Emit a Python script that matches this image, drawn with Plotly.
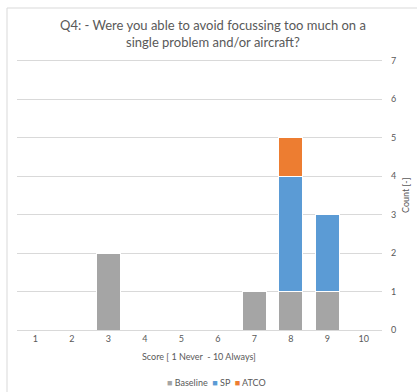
import plotly.graph_objects as go

# Survey responses per score
scores = ["1", "2", "3", "4", "5", "6", "7", "8", "9", "10"]
baseline = [0, 0, 2, 0, 0, 0, 1, 1, 1, 0]
sp = [0, 0, 0, 0, 0, 0, 0, 3, 2, 0]
atco = [0, 0, 0, 0, 0, 0, 0, 1, 0, 0]
y_ticks = [0, 1, 2, 3, 4, 5, 6, 7]
series = [("Baseline", baseline, "#a5a5a5"),
          ("SP", sp, "#5b9bd5"),
          ("ATCO", atco, "#ed7d31")]

W, H = 417, 392
L, R, T, B = 17, 35, 59, 62
pw, ph = W - L - R, H - T - B

def px(x):
    return (x - L) / pw

def py(y):
    return (H - B - y) / ph

font = "Lato, Carlito, 'Open Sans', sans-serif"
grey = "#595959"

fig = go.Figure()
for name, vals, col in series:
    fig.add_trace(go.Bar(
        x=scores, y=vals, name=name,
        marker=dict(color=col, line=dict(color="white", width=1)),
    ))

# compact legend line under the axis title
legend_text = "&nbsp;&nbsp;".join(
    f"<span style='color:{col}'>■</span> {name}" for name, _, col in series)

fig.update_layout(
    width=W, height=H,
    margin=dict(l=L, r=R, t=T, b=B, autoexpand=False),
    barmode="stack", bargap=0.34,
    paper_bgcolor="white", plot_bgcolor="white",
    font=dict(family=font, color=grey, size=9),
    showlegend=False,
    xaxis=dict(type="category", range=[-0.5, 9.5], showgrid=False,
               showline=True, linecolor="#d9d9d9", linewidth=1,
               ticks="", tickfont=dict(size=9, color=grey)),
    yaxis=dict(side="right", range=[0, 7.04], tickvals=y_ticks,
               showgrid=True, gridcolor="#d9d9d9", gridwidth=1,
               zeroline=False, ticks="", ticklabelstandoff=8,
               tickfont=dict(size=9, color=grey)),
    annotations=[
        dict(text="Q4: - Were you able to avoid focussing too much on a<br>single problem and/or aircraft?",
             xref="paper", yref="paper", x=px(213), y=py(34),
             xanchor="center", yanchor="middle", showarrow=False,
             font=dict(size=13, color=grey, family=font)),
        dict(text="Score [ 1 Never  - 10 Always]",
             xref="paper", yref="paper", x=px(199), y=py(356),
             xanchor="center", yanchor="middle", showarrow=False,
             font=dict(size=9, color=grey)),
        dict(text="Count [-]", textangle=-90,
             xref="paper", yref="paper", x=px(405), y=py(196),
             xanchor="center", yanchor="middle", showarrow=False,
             font=dict(size=9, color=grey)),
        dict(text=legend_text,
             xref="paper", yref="paper", x=px(216), y=py(382),
             xanchor="center", yanchor="middle", showarrow=False,
             font=dict(size=9, color=grey)),
    ],
    shapes=[
        dict(type="rect", xref="paper", yref="paper",
             x0=px(7), x1=px(430), y0=py(400), y1=py(8),
             line=dict(color="#d9d9d9", width=1), layer="below"),
    ],
)

fig.write_html("out.html")
